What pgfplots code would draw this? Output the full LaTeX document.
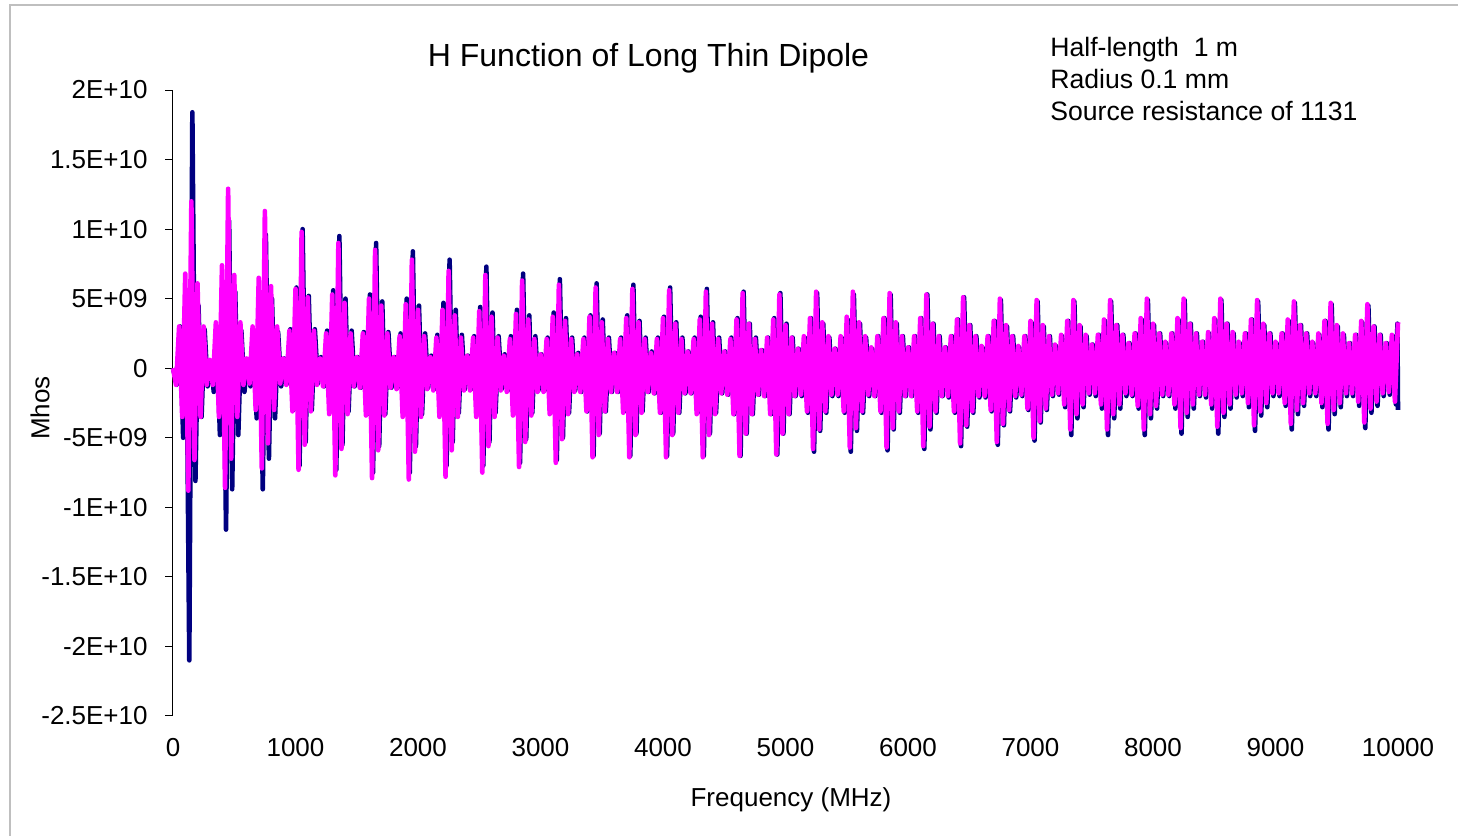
\documentclass[border=0pt]{standalone}
\usepackage{pgfplots}
\pgfplotsset{compat=1.18}
\usepackage{pgfplotstable}
\usepackage{fontspec}
\setmainfont{Liberation Sans}
\definecolor{mag}{RGB}{255,0,255}
\definecolor{navy}{RGB}{0,0,128}

\pgfplotstableread{
x y
0 0
25 -1.2e9
50 3.0e9
75 -3.5e9
100 6.8e9
125 -8.8e9
150 12.0e9
175 -6.6e9
200 6.1e9
225 -3.5e9
250 3.0e9
275 -1.2e9
300 0.6e9
325 -1.2e9
350 3.3e9
375 -3.5e9
400 7.4e9
425 -8.6e9
450 12.9e9
475 -6.5e9
500 6.7e9
525 -3.5e9
550 3.3e9
575 -1.2e9
600 0.7e9
625 -1.1e9
650 3.0e9
675 -3.0e9
700 6.5e9
725 -7.2e9
750 11.3e9
775 -5.4e9
800 5.9e9
825 -3.0e9
850 3.0e9
875 -1.1e9
900 0.7e9
925 -1.2e9
950 2.7e9
975 -3.1e9
1000 5.7e9
1025 -7.3e9
1050 9.8e9
1075 -5.5e9
1100 5.1e9
1125 -3.1e9
1150 2.7e9
1175 -1.2e9
1200 0.7e9
1225 -1.3e9
1250 2.5e9
1275 -3.3e9
1300 5.3e9
1325 -7.7e9
1350 9.0e9
1375 -5.8e9
1400 4.7e9
1425 -3.3e9
1450 2.5e9
1475 -1.3e9
1500 0.8e9
1525 -1.4e9
1550 2.5e9
1575 -3.4e9
1600 5.0e9
1625 -7.9e9
1650 8.5e9
1675 -5.9e9
1700 4.5e9
1725 -3.4e9
1750 2.5e9
1775 -1.4e9
1800 0.8e9
1825 -1.5e9
1850 2.3e9
1875 -3.5e9
1900 4.6e9
1925 -8.0e9
1950 7.8e9
1975 -6.0e9
2000 4.2e9
2025 -3.5e9
2050 2.3e9
2075 -1.5e9
2100 0.8e9
2125 -1.6e9
2150 2.2e9
2175 -3.5e9
2200 4.2e9
2225 -7.8e9
2250 7.0e9
2275 -5.9e9
2300 3.8e9
2325 -3.5e9
2350 2.2e9
2375 -1.6e9
2400 0.9e9
2425 -1.6e9
2450 2.2e9
2475 -3.5e9
2500 4.1e9
2525 -7.5e9
2550 6.7e9
2575 -5.6e9
2600 3.7e9
2625 -3.5e9
2650 2.2e9
2675 -1.6e9
2700 0.9e9
2725 -1.7e9
2750 2.1e9
2775 -3.4e9
2800 3.9e9
2825 -7.1e9
2850 6.3e9
2875 -5.3e9
2900 3.5e9
2925 -3.4e9
2950 2.1e9
2975 -1.7e9
3000 1.0e9
3025 -1.7e9
3050 2.1e9
3075 -3.3e9
3100 3.7e9
3125 -6.8e9
3150 6.0e9
3175 -5.1e9
3200 3.4e9
3225 -3.3e9
3250 2.1e9
3275 -1.7e9
3300 1.0e9
3325 -1.7e9
3350 2.1e9
3375 -3.1e9
3400 3.7e9
3425 -6.4e9
3450 5.8e9
3475 -4.8e9
3500 3.3e9
3525 -3.1e9
3550 2.1e9
3575 -1.7e9
3600 1.1e9
3625 -1.7e9
3650 2.1e9
3675 -3.2e9
3700 3.6e9
3725 -6.4e9
3750 5.7e9
3775 -4.8e9
3800 3.3e9
3825 -3.2e9
3850 2.1e9
3875 -1.7e9
3900 1.1e9
3925 -1.8e9
3950 2.1e9
3975 -3.2e9
4000 3.6e9
4025 -6.4e9
4050 5.6e9
4075 -4.8e9
4100 3.2e9
4125 -3.2e9
4150 2.1e9
4175 -1.8e9
4200 1.2e9
4225 -1.8e9
4250 2.1e9
4275 -3.3e9
4300 3.5e9
4325 -6.4e9
4350 5.5e9
4375 -4.8e9
4400 3.2e9
4425 -3.3e9
4450 2.1e9
4475 -1.8e9
4500 1.2e9
4525 -1.9e9
4550 2.1e9
4575 -3.3e9
4600 3.5e9
4625 -6.3e9
4650 5.4e9
4675 -4.7e9
4700 3.2e9
4725 -3.3e9
4750 2.1e9
4775 -1.9e9
4800 1.3e9
4825 -2.0e9
4850 2.2e9
4875 -3.3e9
4900 3.5e9
4925 -6.2e9
4950 5.3e9
4975 -4.7e9
5000 3.1e9
5025 -3.3e9
5050 2.2e9
5075 -2.0e9
5100 1.4e9
5125 -1.9e9
5150 2.3e9
5175 -3.1e9
5200 3.6e9
5225 -5.8e9
5250 5.5e9
5275 -4.4e9
5300 3.3e9
5325 -3.1e9
5350 2.3e9
5375 -1.9e9
5400 1.4e9
5425 -1.9e9
5450 2.3e9
5475 -3.1e9
5500 3.7e9
5525 -5.7e9
5550 5.5e9
5575 -4.3e9
5600 3.3e9
5625 -3.1e9
5650 2.3e9
5675 -1.9e9
5700 1.5e9
5725 -2.0e9
5750 2.3e9
5775 -3.1e9
5800 3.6e9
5825 -5.7e9
5850 5.4e9
5875 -4.3e9
5900 3.3e9
5925 -3.1e9
5950 2.3e9
5975 -2.0e9
6000 1.5e9
6025 -2.0e9
6050 2.3e9
6075 -3.1e9
6100 3.6e9
6125 -5.6e9
6150 5.3e9
6175 -4.2e9
6200 3.2e9
6225 -3.1e9
6250 2.3e9
6275 -2.0e9
6300 1.5e9
6325 -2.0e9
6350 2.3e9
6375 -3.1e9
6400 3.5e9
6425 -5.4e9
6450 5.1e9
6475 -4.1e9
6500 3.1e9
6525 -3.1e9
6550 2.3e9
6575 -2.0e9
6600 1.6e9
6625 -2.0e9
6650 2.3e9
6675 -3.0e9
6700 3.4e9
6725 -5.3e9
6750 5.0e9
6775 -4.0e9
6800 3.1e9
6825 -3.0e9
6850 2.3e9
6875 -2.0e9
6900 1.6e9
6925 -1.9e9
6950 2.3e9
6975 -2.9e9
7000 3.4e9
7025 -5.0e9
7050 4.9e9
7075 -3.8e9
7100 3.1e9
7125 -2.9e9
7150 2.3e9
7175 -1.9e9
7200 1.7e9
7225 -1.8e9
7250 2.4e9
7275 -2.6e9
7300 3.4e9
7325 -4.4e9
7350 4.9e9
7375 -3.3e9
7400 3.1e9
7425 -2.6e9
7450 2.4e9
7475 -1.8e9
7500 1.7e9
7525 -1.8e9
7550 2.4e9
7575 -2.6e9
7600 3.5e9
7625 -4.4e9
7650 4.9e9
7675 -3.3e9
7700 3.1e9
7725 -2.6e9
7750 2.4e9
7775 -1.8e9
7800 1.8e9
7825 -1.9e9
7850 2.5e9
7875 -2.7e9
7900 3.6e9
7925 -4.4e9
7950 5.0e9
7975 -3.3e9
8000 3.2e9
8025 -2.7e9
8050 2.5e9
8075 -1.9e9
8100 1.9e9
8125 -1.9e9
8150 2.5e9
8175 -2.6e9
8200 3.6e9
8225 -4.3e9
8250 5.0e9
8275 -3.2e9
8300 3.2e9
8325 -2.6e9
8350 2.5e9
8375 -1.9e9
8400 1.9e9
8425 -1.9e9
8450 2.6e9
8475 -2.6e9
8500 3.6e9
8525 -4.2e9
8550 5.0e9
8575 -3.2e9
8600 3.2e9
8625 -2.6e9
8650 2.6e9
8675 -1.9e9
8700 1.9e9
8725 -1.8e9
8750 2.5e9
8775 -2.5e9
8800 3.5e9
8825 -4.1e9
8850 4.9e9
8875 -3.1e9
8900 3.2e9
8925 -2.5e9
8950 2.5e9
8975 -1.8e9
9000 1.9e9
9025 -1.8e9
9050 2.5e9
9075 -2.5e9
9100 3.5e9
9125 -4.0e9
9150 4.8e9
9175 -3.0e9
9200 3.1e9
9225 -2.5e9
9250 2.5e9
9275 -1.8e9
9300 1.9e9
9325 -1.8e9
9350 2.5e9
9375 -2.5e9
9400 3.4e9
9425 -4.0e9
9450 4.7e9
9475 -3.0e9
9500 3.1e9
9525 -2.5e9
9550 2.5e9
9575 -1.8e9
9600 1.8e9
9625 -1.8e9
9650 2.4e9
9675 -2.4e9
9700 3.4e9
9725 -3.9e9
9750 4.6e9
9775 -2.9e9
9800 3.0e9
9825 -2.4e9
9850 2.4e9
9875 -1.8e9
9900 1.8e9
9925 -1.7e9
9950 2.4e9
9975 -2.4e9
10000 3.3e9
}\magtable

\pgfplotstableread{
x y
0 0
33 -1.2e9
58 3.0e9
83 -5.0e9
108 5.0e9
133 -21.0e9
158 18.4e9
183 -8.1e9
208 4.5e9
233 -3.5e9
258 2.8e9
283 -1.3e9
308 0.5e9
333 -1.7e9
358 2.7e9
383 -4.8e9
408 6.1e9
433 -11.6e9
458 10.6e9
483 -8.7e9
508 5.5e9
533 -4.8e9
558 2.7e9
583 -1.7e9
608 0.6e9
633 -1.3e9
658 2.6e9
683 -3.6e9
708 5.5e9
733 -8.7e9
758 9.6e9
783 -6.5e9
808 5.0e9
833 -3.6e9
858 2.6e9
883 -1.3e9
908 0.7e9
933 -1.1e9
958 2.8e9
983 -3.0e9
1008 5.8e9
1033 -7.0e9
1058 10.0e9
1083 -5.3e9
1108 5.2e9
1133 -3.0e9
1158 2.8e9
1183 -1.1e9
1208 0.8e9
1233 -1.3e9
1258 2.7e9
1283 -3.1e9
1308 5.6e9
1333 -7.3e9
1358 9.5e9
1383 -5.5e9
1408 5.0e9
1433 -3.1e9
1458 2.7e9
1483 -1.3e9
1508 0.8e9
1533 -1.4e9
1558 2.6e9
1583 -3.3e9
1608 5.3e9
1633 -7.5e9
1658 9.0e9
1683 -5.6e9
1708 4.8e9
1733 -3.3e9
1758 2.6e9
1783 -1.4e9
1808 0.8e9
1833 -1.4e9
1858 2.5e9
1883 -3.3e9
1908 5.0e9
1933 -7.5e9
1958 8.4e9
1983 -5.6e9
2008 4.5e9
2033 -3.3e9
2058 2.5e9
2083 -1.4e9
2108 0.9e9
2133 -1.5e9
2158 2.4e9
2183 -3.2e9
2208 4.7e9
2233 -7.0e9
2258 7.8e9
2283 -5.3e9
2308 4.2e9
2333 -3.2e9
2358 2.4e9
2383 -1.5e9
2408 0.9e9
2433 -1.5e9
2458 2.3e9
2483 -3.2e9
2508 4.4e9
2533 -7.0e9
2558 7.3e9
2583 -5.3e9
2608 4.0e9
2633 -3.2e9
2658 2.3e9
2683 -1.5e9
2708 1.0e9
2733 -1.6e9
2758 2.3e9
2783 -3.2e9
2808 4.2e9
2833 -6.8e9
2858 6.8e9
2883 -5.1e9
2908 3.8e9
2933 -3.2e9
2958 2.3e9
2983 -1.6e9
3008 1.0e9
3033 -1.6e9
3058 2.2e9
3083 -3.2e9
3108 4.0e9
3133 -6.6e9
3158 6.4e9
3183 -5.0e9
3208 3.6e9
3233 -3.2e9
3258 2.2e9
3283 -1.6e9
3308 1.1e9
3333 -1.7e9
3358 2.2e9
3383 -3.1e9
3408 3.8e9
3433 -6.3e9
3458 6.1e9
3483 -4.7e9
3508 3.5e9
3533 -3.1e9
3558 2.2e9
3583 -1.7e9
3608 1.1e9
3633 -1.7e9
3658 2.2e9
3683 -3.1e9
3708 3.8e9
3733 -6.3e9
3758 6.0e9
3783 -4.7e9
3808 3.4e9
3833 -3.1e9
3858 2.2e9
3883 -1.7e9
3908 1.2e9
3933 -1.8e9
3958 2.2e9
3983 -3.2e9
4008 3.7e9
4033 -6.3e9
4058 5.8e9
4083 -4.7e9
4108 3.3e9
4133 -3.2e9
4158 2.2e9
4183 -1.8e9
4208 1.2e9
4233 -1.8e9
4258 2.2e9
4283 -3.2e9
4308 3.7e9
4333 -6.3e9
4358 5.7e9
4383 -4.7e9
4408 3.3e9
4433 -3.2e9
4458 2.2e9
4483 -1.8e9
4508 1.2e9
4533 -1.9e9
4558 2.2e9
4583 -3.3e9
4608 3.6e9
4633 -6.3e9
4658 5.5e9
4683 -4.7e9
4708 3.2e9
4733 -3.3e9
4758 2.2e9
4783 -1.9e9
4808 1.3e9
4833 -2.0e9
4858 2.2e9
4883 -3.3e9
4908 3.6e9
4933 -6.2e9
4958 5.4e9
4983 -4.7e9
5008 3.2e9
5033 -3.3e9
5058 2.2e9
5083 -2.0e9
5108 1.4e9
5133 -2.0e9
5158 2.2e9
5183 -3.2e9
5208 3.6e9
5233 -6.0e9
5258 5.4e9
5283 -4.5e9
5308 3.2e9
5333 -3.2e9
5358 2.2e9
5383 -2.0e9
5408 1.4e9
5433 -2.0e9
5458 2.2e9
5483 -3.2e9
5508 3.5e9
5533 -6.0e9
5558 5.3e9
5583 -4.5e9
5608 3.2e9
5633 -3.2e9
5658 2.2e9
5683 -2.0e9
5708 1.4e9
5733 -2.0e9
5758 2.3e9
5783 -3.2e9
5808 3.6e9
5833 -5.9e9
5858 5.3e9
5883 -4.4e9
5908 3.2e9
5933 -3.2e9
5958 2.3e9
5983 -2.0e9
6008 1.5e9
6033 -2.0e9
6058 2.3e9
6083 -3.2e9
6108 3.6e9
6133 -5.8e9
6158 5.3e9
6183 -4.4e9
6208 3.2e9
6233 -3.2e9
6258 2.3e9
6283 -2.0e9
6308 1.5e9
6333 -2.1e9
6358 2.3e9
6383 -3.2e9
6408 3.5e9
6433 -5.6e9
6458 5.1e9
6483 -4.2e9
6508 3.1e9
6533 -3.2e9
6558 2.3e9
6583 -2.1e9
6608 1.5e9
6633 -2.1e9
6658 2.3e9
6683 -3.1e9
6708 3.4e9
6733 -5.5e9
6758 4.9e9
6783 -4.1e9
6808 3.0e9
6833 -3.1e9
6858 2.3e9
6883 -2.1e9
6908 1.5e9
6933 -2.0e9
6958 2.3e9
6983 -3.0e9
7008 3.3e9
7033 -5.2e9
7058 4.8e9
7083 -3.9e9
7108 3.0e9
7133 -3.0e9
7158 2.3e9
7183 -2.0e9
7208 1.6e9
7233 -1.9e9
7258 2.3e9
7283 -2.8e9
7308 3.4e9
7333 -4.8e9
7358 4.8e9
7383 -3.6e9
7408 3.0e9
7433 -2.8e9
7458 2.3e9
7483 -1.9e9
7508 1.7e9
7533 -2.0e9
7558 2.4e9
7583 -2.9e9
7608 3.4e9
7633 -4.8e9
7658 4.8e9
7683 -3.6e9
7708 3.1e9
7733 -2.9e9
7758 2.4e9
7783 -2.0e9
7808 1.8e9
7833 -2.0e9
7858 2.5e9
7883 -2.9e9
7908 3.5e9
7933 -4.8e9
7958 4.9e9
7983 -3.6e9
8008 3.1e9
8033 -2.9e9
8058 2.5e9
8083 -2.0e9
8108 1.8e9
8133 -2.0e9
8158 2.5e9
8183 -2.9e9
8208 3.5e9
8233 -4.7e9
8258 4.9e9
8283 -3.5e9
8308 3.2e9
8333 -2.9e9
8358 2.5e9
8383 -2.0e9
8408 1.9e9
8433 -2.1e9
8458 2.5e9
8483 -2.9e9
8508 3.5e9
8533 -4.7e9
8558 4.9e9
8583 -3.5e9
8608 3.2e9
8633 -2.9e9
8658 2.5e9
8683 -2.1e9
8708 1.8e9
8733 -2.0e9
8758 2.5e9
8783 -2.8e9
8808 3.5e9
8833 -4.5e9
8858 4.8e9
8883 -3.4e9
8908 3.1e9
8933 -2.8e9
8958 2.5e9
8983 -2.0e9
9008 1.8e9
9033 -2.0e9
9058 2.5e9
9083 -2.7e9
9108 3.4e9
9133 -4.4e9
9158 4.7e9
9183 -3.3e9
9208 3.1e9
9233 -2.7e9
9258 2.5e9
9283 -2.0e9
9308 1.8e9
9333 -2.0e9
9358 2.4e9
9383 -2.8e9
9408 3.4e9
9433 -4.4e9
9458 4.6e9
9483 -3.3e9
9508 3.0e9
9533 -2.8e9
9558 2.4e9
9583 -2.0e9
9608 1.8e9
9633 -2.0e9
9658 2.4e9
9683 -2.7e9
9708 3.3e9
9733 -4.3e9
9758 4.5e9
9783 -3.2e9
9808 3.0e9
9833 -2.7e9
9858 2.4e9
9883 -2.0e9
9908 1.8e9
9933 -1.9e9
9958 2.3e9
9983 -2.6e9
9995 3.2e9
10000 -3.0e9
}\blutable

\begin{document}
\begin{tikzpicture}[x=1pt,y=1pt]
\useasboundingbox (0,0) rectangle (729,418);
\draw[black!25, line width=0.7pt] (5,0) -- (5,415.5) -- (729,415.5);
\begin{axis}[
  at={(86.5pt,60pt)}, anchor=south west,
  scale only axis, width=612.5pt, height=313pt,
  xmin=0, xmax=10000, ymin=-2.5e10, ymax=2e10,
  axis line style={draw=none},
  xtick={0,1000,2000,3000,4000,5000,6000,7000,8000,9000,10000},
  xticklabels={0,1000,2000,3000,4000,5000,6000,7000,8000,9000,10000},
  ytick={-2.5e10,-2e10,-1.5e10,-1e10,-5e9,0,5e9,1e10,1.5e10,2e10},
  yticklabels={-2.5E+10,-2E+10,-1.5E+10,-1E+10,-5E+09,0,5E+09,1E+10,1.5E+10,2E+10},
  scaled x ticks=false, scaled y ticks=false,
  ytick pos=left, xtick pos=bottom,
  tick align=outside, major tick length=4pt,
  major x tick style={draw=none},
  major y tick style={black, line width=0.5pt},
  ticklabel style={font=\fontsize{13}{15}\selectfont},
  yticklabel style={anchor=east, inner sep=0pt, xshift=-8.5pt},
  xticklabel style={anchor=base, inner sep=0pt, yshift=-16.1pt},
  xlabel={Frequency (MHz)}, ylabel={Mhos},
  label style={font=\fontsize{13}{15}\selectfont},
  xlabel style={at={(axis description cs:0.5045,-0.134)}, anchor=center},
  ylabel style={at={(axis description cs:-0.1086,0.492)}, anchor=center, rotate=0},
  clip=false,
]
\draw[black, line width=0.5pt] (axis cs:0,0) -- (axis cs:10000,0);
\draw[black, line width=0.5pt] (axis cs:0,-2.5e10) -- (axis cs:0,2e10);
\addplot[navy, line width=2.3pt, line join=round, no marks] table[x=x,y=y] {\blutable};
\addplot[mag, line width=2.3pt, line join=round, no marks] table[x=x,y=y] {\magtable};
\end{axis}
\node[anchor=base, font=\fontsize{16}{19}\selectfont] at (324.25,384.75) {H Function of Long Thin Dipole};
\node[anchor=base west, inner sep=0pt, font=\fontsize{13.3}{16}\selectfont] at (525,389.75) {Half-length\ \ 1 m};
\node[anchor=base west, inner sep=0pt, font=\fontsize{13.3}{16}\selectfont] at (525,373.75) {Radius 0.1 mm};
\node[anchor=base west, inner sep=0pt, font=\fontsize{13.3}{16}\selectfont] at (525,357.75) {Source resistance of 1131};
\end{tikzpicture}
\end{document}
